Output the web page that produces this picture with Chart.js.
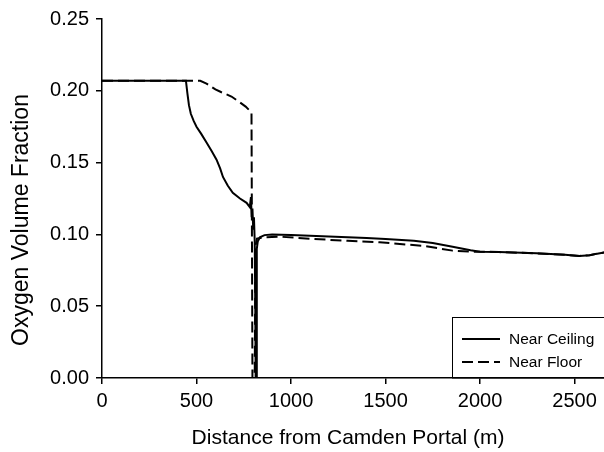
<!DOCTYPE html>
<html>
<head>
<meta charset="utf-8">
<script src="https://cdn.jsdelivr.net/npm/chart.js@4/dist/chart.umd.min.js"></script>
<style>
  html, body { margin: 0; padding: 0; background: #ffffff; }
  #wrap { width: 604px; height: 452px; position: relative; }
</style>
</head>
<body>
<div id="wrap"><canvas id="c" width="604" height="452"></canvas></div>
<script>
// ---- data ----
const xTitle = 'Distance from Camden Portal (m)';
const yTitle = 'Oxygen Volume Fraction';
const seriesNames = ['Near Ceiling', 'Near Floor'];
const yTickValues = [0, 0.05, 0.10, 0.15, 0.20, 0.25];
const yTickLabels = ['0.00', '0.05', '0.10', '0.15', '0.20', '0.25'];
const xTickValues = [0, 500, 1000, 1500, 2000, 2500];
const xTickLabels = ['0', '500', '1000', '1500', '2000', '2500'];

const ceilingDist = [0, 444, 452, 460, 470, 485, 500, 525, 553, 580, 606, 625, 640, 665, 692, 730, 765, 782,
  788, 792, 796, 800, 804, 808, 811, 813, 816, 819, 824, 835, 860, 900, 1000, 1200, 1400, 1500, 1650, 1750,
  1855, 1950, 2000, 2100, 2300, 2450, 2526, 2580, 2620, 2660];
const ceilingO2 = [0.207, 0.207, 0.198, 0.190, 0.184, 0.179, 0.175, 0.170, 0.164, 0.158, 0.152, 0.146, 0.140,
  0.134, 0.129, 0.125, 0.122, 0.119,
  0.126, 0.112, 0.118, 0.104, 0.112, 0.095, 0.050, 0.000, 0.000, 0.090, 0.095, 0.098, 0.0995, 0.100, 0.0995,
  0.0985, 0.0975, 0.0968, 0.0955, 0.094,
  0.0914, 0.089, 0.088, 0.0877, 0.0868, 0.0858, 0.085, 0.0855, 0.0866, 0.0875];

const floorDist = [0, 520, 553, 600, 632, 685, 729, 760, 791, 796, 803, 808, 812, 820, 860, 941, 1100, 1300,
  1469, 1700, 1855, 1950, 2000, 2100, 2300, 2450, 2526, 2580, 2620, 2660];
const floorO2 = [0.207, 0.207, 0.205, 0.201, 0.199, 0.196, 0.192, 0.189, 0.185, 0.000, 0.000, 0.000, 0.092,
  0.097, 0.098, 0.0984, 0.097, 0.0955,
  0.0945, 0.092, 0.0887, 0.088, 0.088, 0.0877, 0.0868, 0.0858, 0.085, 0.0855, 0.0866, 0.0875];

function pts(xs, ys) { return xs.map((x, i) => ({ x: x, y: ys[i] })); }

const FONT = '"Liberation Sans", Arial, Helvetica, sans-serif';

const overlay = {
  id: 'overlay',
  afterDraw(chart) {
    const ctx = chart.ctx;
    ctx.save();
    ctx.fillStyle = '#000';
    // y title
    ctx.font = '23px ' + FONT;
    ctx.textAlign = 'center';
    ctx.textBaseline = 'middle';
    ctx.translate(22, 220);
    ctx.rotate(-Math.PI / 2);
    ctx.fillText(yTitle, 0, 0);
    ctx.setTransform(1, 0, 0, 1, 0, 0);
    // x title
    ctx.font = '21px ' + FONT;
    ctx.fillText(xTitle, 348, 438);
    // legend box
    const area = chart.chartArea;
    ctx.strokeStyle = '#000';
    ctx.lineWidth = 1;
    ctx.strokeRect(452.5, 317.5, 200, area.bottom - 317.5);
    ctx.font = '15.5px ' + FONT;
    ctx.textAlign = 'left';
    const rows = [339, 362];
    chart.data.datasets.forEach((ds, i) => {
      ctx.beginPath();
      ctx.lineWidth = 2;
      ctx.setLineDash(ds.borderDash || []);
      ctx.moveTo(462, rows[i]);
      ctx.lineTo(500, rows[i]);
      ctx.stroke();
      ctx.setLineDash([]);
      ctx.fillText(ds.label, 509, rows[i] + 1);
    });
    ctx.restore();
  }
};

function labelFor(values, labels) {
  return (v) => {
    const i = values.findIndex(t => Math.abs(t - v) < 1e-9);
    return i >= 0 ? labels[i] : '';
  };
}

new Chart(document.getElementById('c'), {
  type: 'scatter',
  data: {
    datasets: [
      { label: seriesNames[0], data: pts(ceilingDist, ceilingO2), showLine: true, borderColor: '#000',
        borderWidth: 2, pointRadius: 0, tension: 0, fill: false },
      { label: seriesNames[1], data: pts(floorDist, floorO2), showLine: true, borderColor: '#000',
        borderWidth: 2, borderDash: [11, 5], pointRadius: 0, tension: 0, fill: false }
    ]
  },
  options: {
    responsive: false,
    animation: false,
    devicePixelRatio: 1,
    layout: { padding: { top: 19, right: 0, left: 0, bottom: 0 } },
    plugins: { legend: { display: false }, tooltip: { enabled: false } },
    scales: {
      x: {
        type: 'linear', min: 0, max: 2656,
        afterFit(s) { s.height = 74; },
        afterBuildTicks(s) { s.ticks = xTickValues.map(v => ({ value: v })); },
        border: { display: true, color: '#000', width: 1.5 },
        grid: { display: true, drawOnChartArea: false, drawTicks: true, tickLength: 6, color: '#000', lineWidth: 1.5 },
        ticks: {
          autoSkip: false, maxRotation: 0, padding: 5,
          color: '#000', font: { family: FONT, size: 20 },
          callback: labelFor(xTickValues, xTickLabels)
        },
        title: { display: false }
      },
      y: {
        type: 'linear', min: 0, max: 0.25,
        afterFit(s) { s.width = 102; },
        afterBuildTicks(s) { s.ticks = yTickValues.map(v => ({ value: v })); },
        border: { display: true, color: '#000', width: 1.5 },
        grid: { display: true, drawOnChartArea: false, drawTicks: true, tickLength: 6, color: '#000', lineWidth: 1.5 },
        ticks: {
          autoSkip: false, padding: 7,
          color: '#000', font: { family: FONT, size: 20 },
          callback: labelFor(yTickValues, yTickLabels)
        },
        title: { display: false }
      }
    }
  },
  plugins: [overlay]
});
</script>
</body>
</html>
